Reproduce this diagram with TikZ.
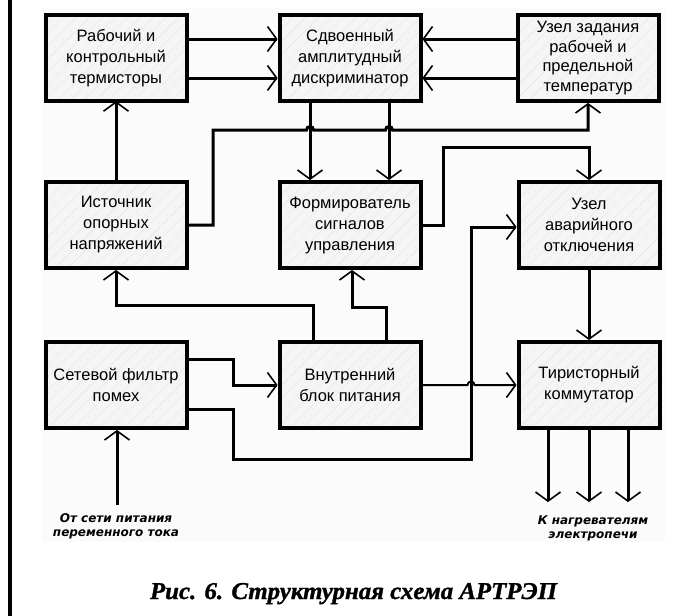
\documentclass[tikz,border=0pt]{standalone}
\usepackage{graphicx}
\usepackage{fontspec}
\setmainfont{Liberation Sans}
\newfontfamily\labfont{DejaVu Sans}
\newfontfamily\capfont{Liberation Serif}[BoldItalicFeatures={FakeBold=1.2}]
\usetikzlibrary{arrows.meta,patterns.meta}
\pgfdeclarearrow{
  name = OpenV,
  defaults = {length = +10pt, width = +25pt},
  setup code = {
    \pgfarrowssettipend{+0pt}
    \pgfarrowssetlineend{+-1pt}
    \pgfarrowssetvisualbackend{-\pgfarrowlength}
    \pgfarrowssetbackend{-\pgfarrowlength}
    \pgfarrowssavethe\pgfarrowlength
    \pgfarrowssavethe\pgfarrowwidth
  },
  drawing code = {
    \pgfsetdash{}{+0pt}
    \pgfsetlinewidth{1.6pt}
    \pgfsetmiterjoin
    \pgfsetbuttcap
    \pgfpathmoveto{\pgfqpoint{-\pgfarrowlength}{.5\pgfarrowwidth}}
    \pgfpathlineto{\pgfqpoint{-0.9pt}{0pt}}
    \pgfpathlineto{\pgfqpoint{-\pgfarrowlength}{-.5\pgfarrowwidth}}
    \pgfusepathqstroke
  },
  parameters = {\the\pgfarrowlength,\the\pgfarrowwidth},
}
\begin{document}
\begin{tikzpicture}[x=1pt,y=-1pt,
  blk/.style={draw, line width=4pt, preaction={fill=gray!8},
    pattern={Lines[angle=45,distance=9pt,line width=0.4pt]}, pattern color=gray!20,
    minimum width=141pt, minimum height=86pt, align=center, inner sep=2pt,
    font=\fontsize{16.5}{21}\selectfont},
  con/.style={line width=3pt},
  arr/.style={con, -{OpenV[length=10pt,width=25pt]}},
  lab/.style={font=\labfont\bfseries\itshape\fontsize{12}{14}\selectfont, align=center}
]
\useasboundingbox (0,0) rectangle (691,616);
\fill[gray!3] (42,8) rectangle (665,542);
\draw[line width=4pt] (10,0) -- (10,616);

% blocks
\node[blk] (therm) at (116,58) {Рабочий и\\контрольный\\термисторы};
\node[blk] (disc)  at (350,58) {Сдвоенный\\амплитудный\\дискриминатор};
\node[blk, font=\fontsize{16.5}{19.5}\selectfont] (zadan) at (588,58) {Узел задания\\рабочей и\\предельной\\температур};
\node[blk] (ist)   at (116,225) {Источник\\опорных\\напряжений};
\node[blk] (form)  at (350,225) {Формирователь\\сигналов\\управления};
\node[blk] (avar)  at (589,225) {Узел\\аварийного\\отключения};
\node[blk] (filt)  at (116,385) {Сетевой фильтр\\помех};
\node[blk] (pit)   at (350,385) {Внутренний\\блок питания};
\node[blk] (tir)   at (589,385) {Тиристорный\\коммутатор};

% free ends
\coordinate (in) at (117,505);
\coordinate (o1) at (548,502);
\coordinate (o2) at (589,502);
\coordinate (o3) at (628,502);

% connectors
\draw[arr] (therm.east |- 0,39) -- (disc.west |- 0,39);
\draw[arr] (therm.east |- 0,78) -- (disc.west |- 0,78);
\draw[arr] (zadan.west |- 0,39) -- (disc.east |- 0,39);
\draw[arr] (zadan.west |- 0,78) -- (disc.east |- 0,78);

\draw[arr] (ist.north) -- (therm.south);

\draw[arr] (ist.east) -- (213,225) -- (213,130) -- (306.5,130)
   arc[start angle=180,end angle=360,radius=3.5] -- (385.5,130)
   arc[start angle=180,end angle=360,radius=3.5] -- (zadan.south |- 0,130) -- (zadan.south);

\draw[arr] (disc.south -| 310,0) -- (form.north -| 310,0);
\draw[arr] (disc.south -| 389,0) -- (form.north -| 389,0);

\draw[arr] (form.east) -- (443,225) -- (443,147) -- (avar.north |- 0,147) -- (avar.north);

\draw[arr] (pit.north -| 313,0) -- (313,305) -- (ist.south |- 0,305) -- (ist.south);
\draw[arr] (pit.north -| 386,0) -- (386,307) -- (352,307) -- (form.south -| 352,0);

\draw[arr] (filt.east |- 0,359) -- (233,359) -- (233,385) -- (pit.west);
\draw[arr] (filt.east |- 0,409) -- (233,409) -- (233,459) -- (471,459) -- (471,227) -- (avar.west |- 0,227);

\draw[arr, line width=2pt] (pit.east) -- (467.5,385)
   arc[start angle=180,end angle=360,radius=3.5] -- (tir.west);

\draw[arr] (avar.south) -- (tir.north);

\draw[arr] (tir.south -| o1) -- (o1);
\draw[arr] (tir.south -| o2) -- (o2);
\draw[arr] (tir.south -| o3) -- (o3);

\draw[arr] (in) -- (filt.south -| in);

% labels
\node[lab] (lsrc) at (116,526) {От сети питания\\переменного тока};
\node[lab] (ldst) at (593,528) {К нагревателям\\электропечи};

\node[anchor=base] (cap) at (353.5,599) {\resizebox{407pt}{16pt}{\capfont\bfseries\itshape\fontsize{24}{24}\selectfont Рис. 6. Структурная схема АРТРЭП}};
\end{tikzpicture}
\end{document}
